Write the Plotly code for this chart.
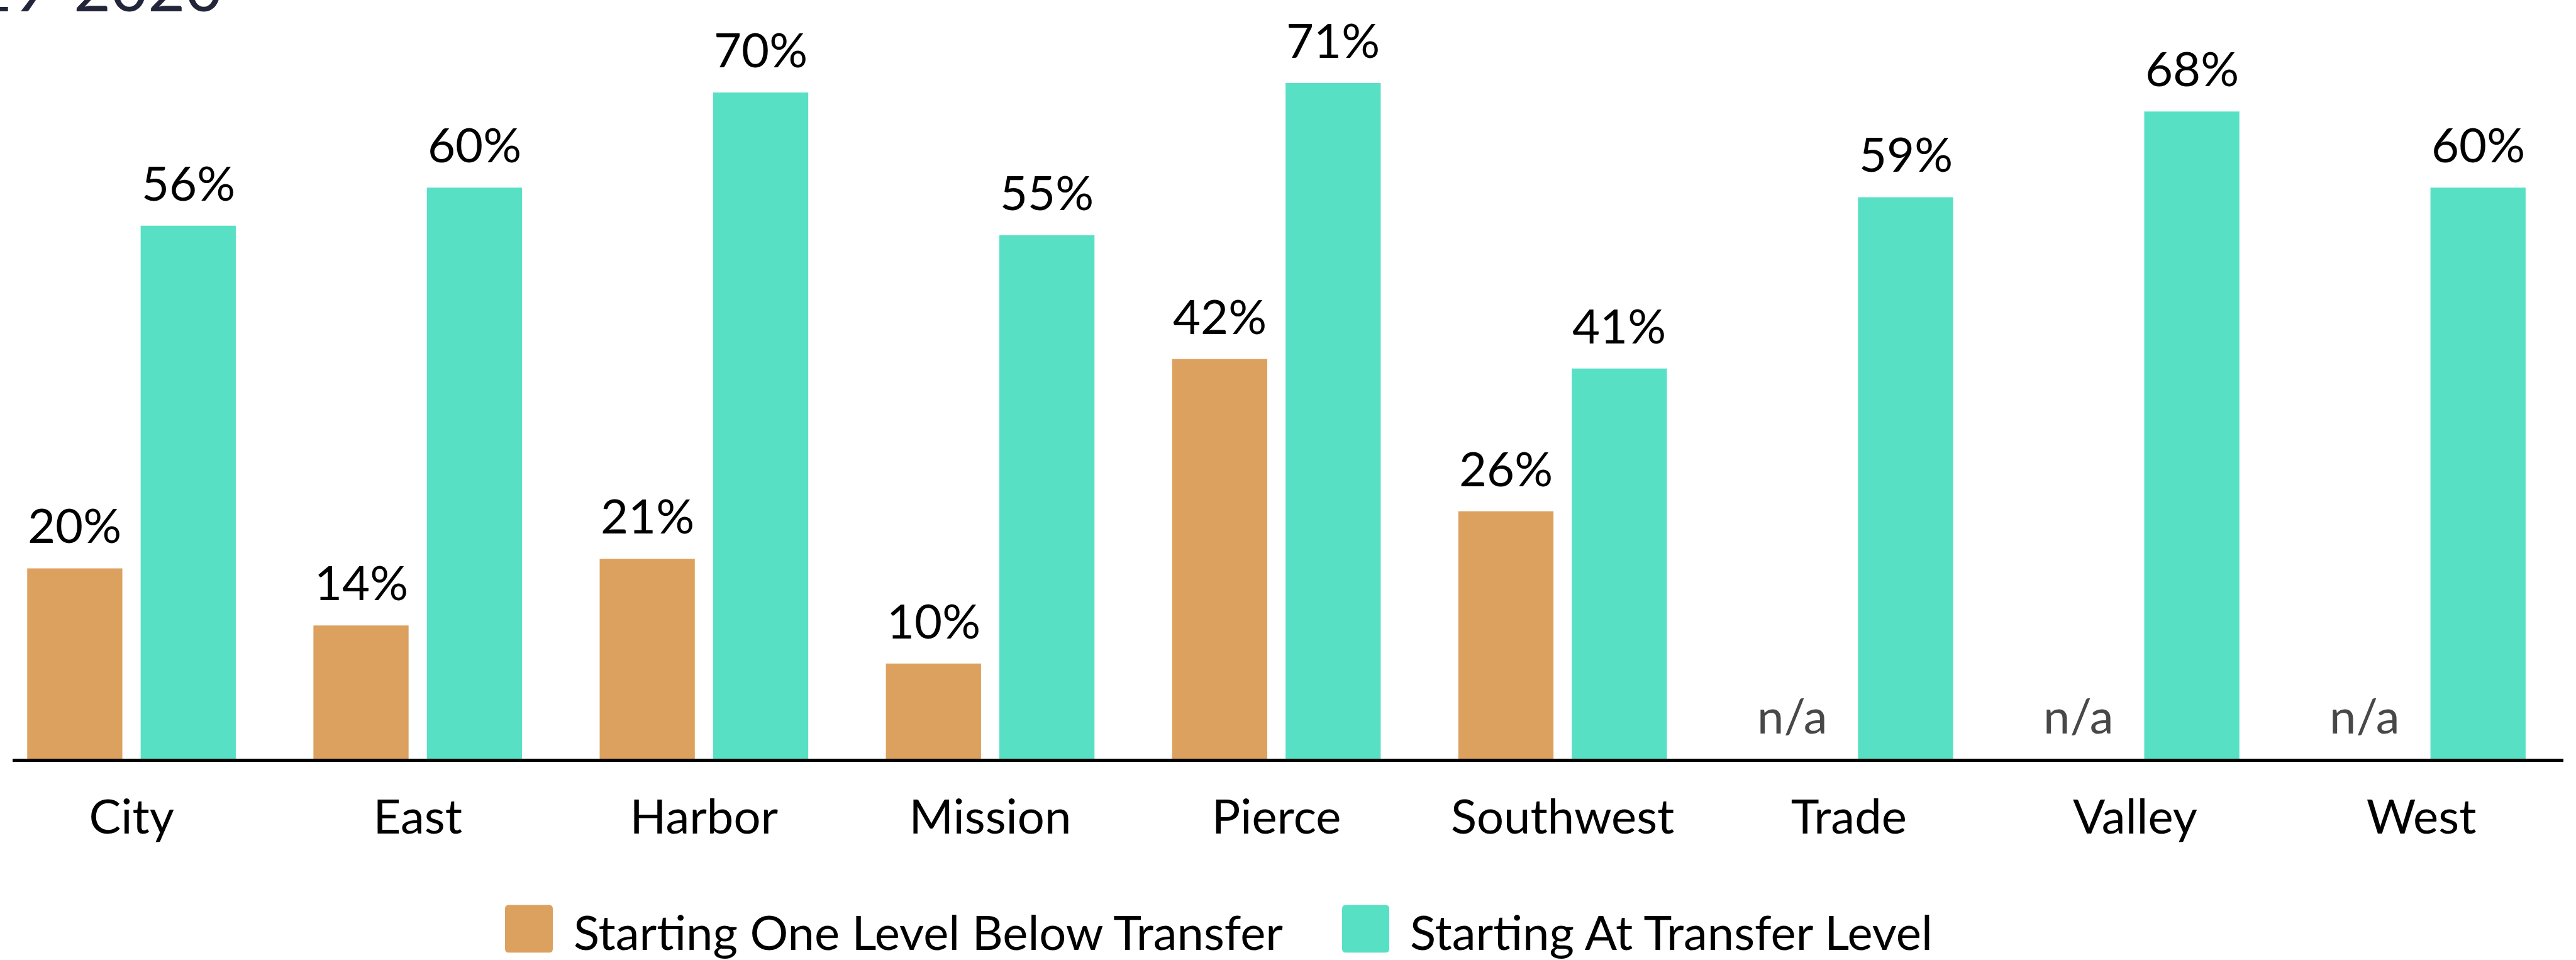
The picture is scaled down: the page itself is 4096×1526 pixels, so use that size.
import plotly.graph_objects as go

# ---------------- data ----------------
colleges = ["City", "East", "Harbor", "Mission", "Pierce", "Southwest", "Trade", "Valley", "West"]
below_transfer = [20, 14, 21, 10, 42, 26, None, None, None]
at_transfer = [56, 60, 70, 55, 71, 41, 59, 68, 60]
series_names = ["Starting One Level Below Transfer", "Starting At Transfer Level"]
series_colors = ["#DCA15E", "#58E0C5"]
title_text = "Transfer-Level Course Completion Rates by Starting Level, 2019-2020"

# ---------------- layout geometry ----------------
W, H = 4096, 1526
ML, MR, MT, MB = 20, 20, 0, 320
PW, PH = W - ML - MR, H - MT - MB
FONT = "Lato, 'Open Sans', sans-serif"
FS = 76


def xp(px):
    return (px - ML) / PW


def yp(py):
    return ((H - MB) - py) / PH


fig = go.Figure()
for name, vals, col in zip(series_names, [below_transfer, at_transfer], series_colors):
    fig.add_trace(go.Bar(
        x=colleges, y=[v if v is not None else 0 for v in vals], name=name,
        marker=dict(color=col, line=dict(width=0)), showlegend=False,
        hoverinfo="skip",
    ))

annotations = []
offs = [-0.1982, 0.1982]
for k, vals in enumerate([below_transfer, at_transfer]):
    for i, v in enumerate(vals):
        if v is None:
            txt, col, yv = "n/a", "#484848", 0
        else:
            txt, col, yv = f"{v}%", "#000000", v
        annotations.append(dict(
            x=i + offs[k], y=yv, xref="x", yref="y", text=txt, showarrow=False,
            xanchor="center", yanchor="bottom", yshift=22,
            font=dict(family=FONT, size=FS, color=col),
        ))

# partially visible title at the top edge
annotations.append(dict(
    x=xp(356), y=yp(42), xref="paper", yref="paper", text=title_text,
    showarrow=False, xanchor="right", yanchor="bottom",
    font=dict(family=FONT, size=102, color="#23263A"),
))

# custom legend (large rounded swatches)
shapes = []
sw_y0, sw_y1 = 1438.5, 1514.2
legend_items = [(803, 879, 910), (2134, 2209, 2240)]
r = 6
for (x0, x1, tx), name, col in zip(legend_items, series_names, series_colors):
    X0, X1 = xp(x0), xp(x1)
    Y0, Y1 = yp(sw_y1), yp(sw_y0)
    rx, ry = r / PW, r / PH
    path = (f"M {X0+rx},{Y0} L {X1-rx},{Y0} Q {X1},{Y0} {X1},{Y0+ry} "
            f"L {X1},{Y1-ry} Q {X1},{Y1} {X1-rx},{Y1} L {X0+rx},{Y1} "
            f"Q {X0},{Y1} {X0},{Y1-ry} L {X0},{Y0+ry} Q {X0},{Y0} {X0+rx},{Y0} Z")
    shapes.append(dict(type="path", path=path, xref="paper", yref="paper",
                       fillcolor=col, line=dict(width=0), layer="above"))
    annotations.append(dict(
        x=xp(tx), y=yp((sw_y0 + sw_y1) / 2 + 4), xref="paper", yref="paper",
        text=name, showarrow=False, xanchor="left", yanchor="middle",
        font=dict(family=FONT, size=FS, color="#000000"),
    ))

fig.update_layout(
    width=W, height=H,
    margin=dict(l=ML, r=MR, t=MT, b=MB, pad=0),
    paper_bgcolor="white", plot_bgcolor="white",
    barmode="group", bargap=0.2073, bargroupgap=0.1613,
    xaxis=dict(
        type="category", range=[-0.4155, 8.4965],
        showline=True, linecolor="#000000", linewidth=5,
        showgrid=False, zeroline=False,
        ticks="outside", ticklen=23, tickcolor="rgba(0,0,0,0)",
        tickfont=dict(family=FONT, size=FS, color="#000000"),
    ),
    yaxis=dict(
        range=[0, 79.72], visible=False, showgrid=False, zeroline=False,
    ),
    annotations=annotations,
    shapes=shapes,
    showlegend=False,
)

fig.write_html(
    "out.html",
    config={"displayModeBar": False},
    post_script="document.body.style.margin='0';document.body.style.overflow='hidden';",
)
